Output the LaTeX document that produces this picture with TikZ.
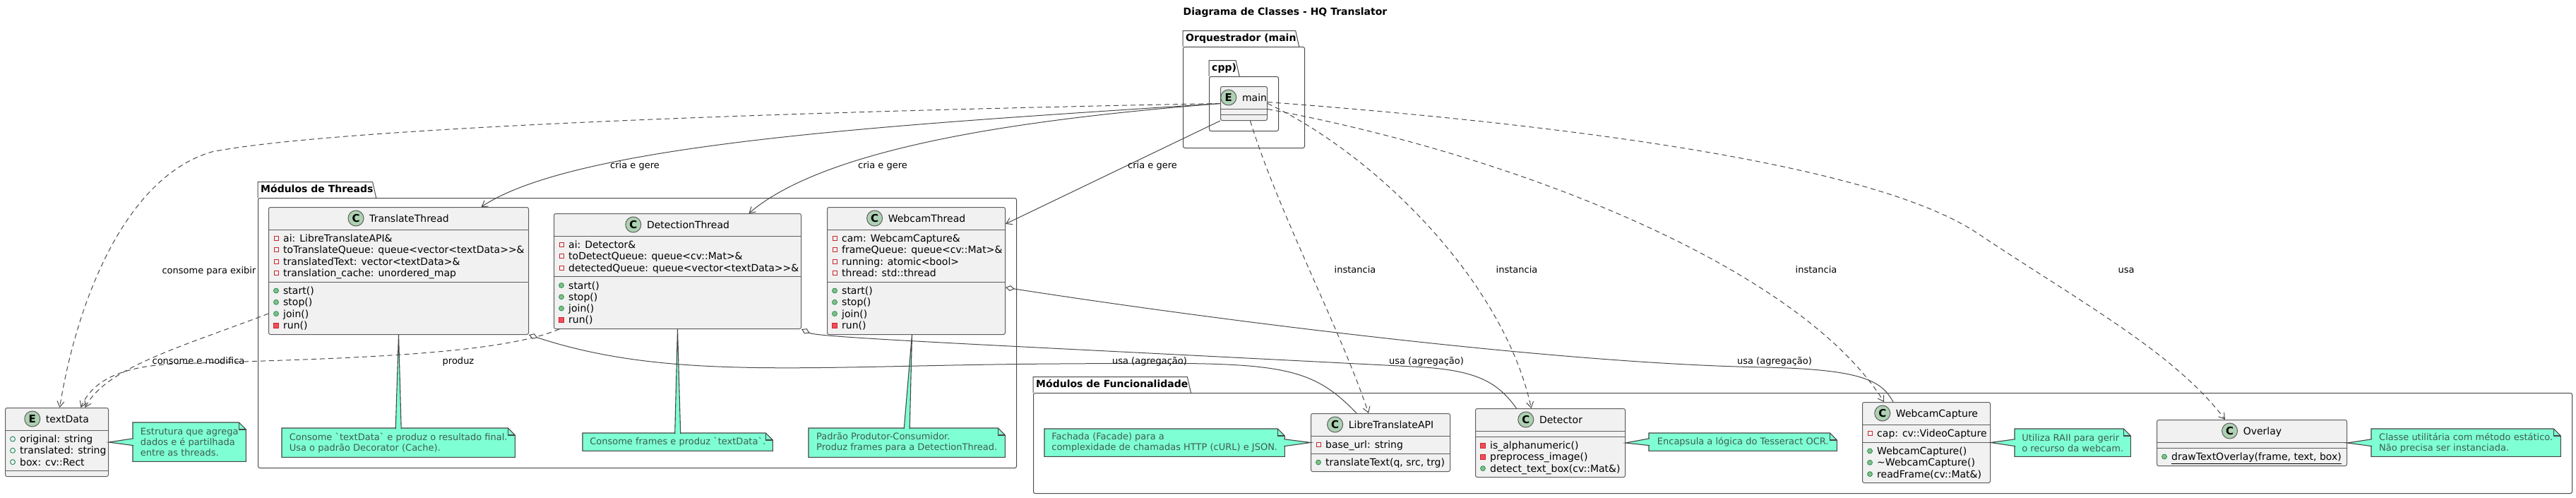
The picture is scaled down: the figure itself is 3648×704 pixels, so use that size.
\documentclass[tikz,border=0pt]{standalone}
\usepackage{fontspec}
\setmainfont{DejaVu Sans}
\usetikzlibrary{arrows.meta,calc}

\definecolor{classbg}{HTML}{F1F1F1}
\definecolor{boxclr}{HTML}{5E5E5E}
\definecolor{edgeclr}{HTML}{4A4A4A}
\definecolor{stereobg}{HTML}{ADD1B2}
\definecolor{notebg}{HTML}{7FFFD4}
\definecolor{noteclr}{HTML}{454545}
\definecolor{notetxt}{HTML}{3E5C52}
\definecolor{privred}{HTML}{C82930}
\definecolor{privfill}{HTML}{F24D5C}
\definecolor{pubgreen}{HTML}{038048}
\definecolor{pubfill}{HTML}{84BE84}

\newcounter{memc}
\newcommand{\umlclass}[7]{%
  \node[classbox, minimum width=#6, minimum height=#7, anchor=north west] (#1) at (#4,#5) {};
  \node[classtitle] (#1-t) at ($(#1.north)+(15,21)$) {#3};
  \node[stereo] (#1-s) at ($(#1-t.base west)+(-19,-5)$) {#2};}
\newcommand{\umlsep}[2]{\draw[classline] ($(#1.north west)+(0,#2)$) -- ($(#1.north east)+(0,#2)$);}
\newcommand{\umlmem}[4]{\stepcounter{memc}%
  \node[#1] (i\arabic{memc}) at ($(#2.north west)+(11,#3)$) {};
  \node[memtext] (m\arabic{memc}) at ($(#2.north west)+(21,#3+5)$) {#4};}
\newcommand{\umlpkg}[6]{%
  \node[pkgbox, minimum width=#5, minimum height=#6, anchor=north west] (#1) at (#3,#4) {};
  \node[pkglabel] (#1-l) at (#1.north west) {#2};
  \draw[pkgline] (#1-l.south west) -- (#1-l.north west) -- ([xshift=-5pt]#1-l.north east) -- (#1-l.south east);}
\newcommand{\umlnote}[1]{%
  \fill[white] ([xshift=-10pt]#1.north east) -- (#1.north east) -- ([yshift=-10pt]#1.north east) -- cycle;
  \draw[noteline] (#1.north west) -- ([xshift=-10pt]#1.north east) -- ([yshift=-10pt]#1.north east) -- (#1.south east) -- (#1.south west) -- cycle;
  \draw[noteline] ([xshift=-10pt]#1.north east) |- ([yshift=-10pt]#1.north east);}
\newcommand{\umlwedge}[3]{%
  \fill[notebg] #1 -- #2 -- #3 -- cycle;
  \draw[noteline] #2 -- #1 -- #3;}

\begin{document}
\begin{tikzpicture}[x=1pt, y=-1pt,
  classbox/.style={draw=boxclr, fill=classbg, rounded corners=2.5pt, line width=1pt, inner sep=0pt},
  classline/.style={draw=boxclr, line width=1pt},
  classtitle/.style={anchor=base, inner sep=0pt, font=\fontsize{14}{16}\selectfont},
  stereo/.style={circle, draw=boxclr, fill=stereobg, minimum size=22pt, inner sep=0pt, line width=1pt, font=\fontsize{15}{16}\selectfont\bfseries},
  memtext/.style={anchor=base west, inner sep=0pt, font=\fontsize{14}{16}\selectfont},
  pfld/.style={rectangle, draw=privred, minimum size=6pt, inner sep=0pt, line width=0.8pt},
  pmth/.style={rectangle, draw=privred, fill=privfill, minimum size=7pt, inner sep=0pt, line width=0.6pt},
  ufld/.style={circle, draw=pubgreen, minimum size=7pt, inner sep=0pt, line width=0.8pt},
  umth/.style={circle, draw=pubgreen, fill=pubfill, minimum size=7pt, inner sep=0pt, line width=0.6pt},
  pkgbox/.style={draw=black!70, rounded corners=2.5pt, line width=1pt, inner sep=0pt},
  pkgline/.style={draw=black!70, line width=1pt},
  pkglabel/.style={anchor=south west, inner xsep=4pt, inner ysep=0pt, minimum height=22pt, text height=10pt, text depth=3pt, font=\fontsize{14}{16}\selectfont\bfseries},
  notebox/.style={anchor=north west, fill=notebg, inner xsep=6pt, inner ysep=2pt, align=left, text=notetxt, font=\fontsize{13}{15}\selectfont},
  noteline/.style={draw=noteclr, line width=1.1pt},
  edge/.style={draw=edgeclr, line width=1pt},
  dep/.style={edge, dash pattern=on 7pt off 5pt, -{Straight Barb[length=8pt,width=10pt]}},
  assoc/.style={edge, -{Straight Barb[length=8pt,width=10pt]}},
  aggr/.style={edge, {Diamond[fill=white,length=13pt,width=8pt]}-},
  lbl/.style={anchor=base, inner sep=0pt, font=\fontsize{13}{15}\selectfont}]
\fill[white] (0,0) rectangle (3648,704);
\useasboundingbox (0,0) rectangle (3648,704);
\node[font=\fontsize{14}{16}\selectfont\bfseries] (title) at (1820,18) {Diagrama de Classes - HQ Translator};

\umlpkg{porq}{Orquestrador (main}{1675}{66}{172}{143}
\umlpkg{pcpp}{cpp)}{1712}{108}{98}{77}
\umlpkg{pthr}{Módulos de Threads}{365}{280}{1074}{382}
\umlpkg{pfun}{Módulos de Funcionalidade}{1463}{556}{2179}{142}

\umlclass{main}{E}{main}{1728}{122}{66}{48}
\umlsep{main}{32} \umlsep{main}{40}

\umlclass{td}{E}{textData}{7}{577}{146}{97}
\umlsep{td}{32} \umlsep{td}{89.5}
\umlmem{ufld}{td}{44.5}{original: string}
\umlmem{ufld}{td}{60.8}{translated: string}
\umlmem{ufld}{td}{77.1}{box: cv::Rect}

\umlclass{tt}{C}{TranslateThread}{380}{293}{368}{180}
\umlsep{tt}{32} \umlsep{tt}{106}
\umlmem{pfld}{tt}{44.5}{ai: LibreTranslateAPI\&}
\umlmem{pfld}{tt}{60.8}{toTranslateQueue: queue<vector<textData>{}>\&}
\umlmem{pfld}{tt}{77.1}{translatedText: vector<textData>\&}
\umlmem{pfld}{tt}{93.4}{translation\_cache: unordered\_map}
\umlmem{umth}{tt}{118.5}{start()}
\umlmem{umth}{tt}{134.8}{stop()}
\umlmem{umth}{tt}{151.1}{join()}
\umlmem{pmth}{tt}{167.4}{run()}

\umlclass{dt}{C}{DetectionThread}{784}{302}{350}{163}
\umlsep{dt}{32} \umlsep{dt}{89.5}
\umlmem{pfld}{dt}{44.5}{ai: Detector\&}
\umlmem{pfld}{dt}{60.8}{toDetectQueue: queue<cv::Mat>\&}
\umlmem{pfld}{dt}{77.1}{detectedQueue: queue<vector<textData>{}>\&}
\umlmem{umth}{dt}{102}{start()}
\umlmem{umth}{dt}{118.3}{stop()}
\umlmem{umth}{dt}{134.6}{join()}
\umlmem{pmth}{dt}{150.9}{run()}

\umlclass{wt}{C}{WebcamThread}{1171}{293}{252}{180}
\umlsep{wt}{32} \umlsep{wt}{106}
\umlmem{pfld}{wt}{44.5}{cam: WebcamCapture\&}
\umlmem{pfld}{wt}{60.8}{frameQueue: queue<cv::Mat>\&}
\umlmem{pfld}{wt}{77.1}{running: atomic<bool>}
\umlmem{pfld}{wt}{93.4}{thread: std::thread}
\umlmem{umth}{wt}{118.5}{start()}
\umlmem{umth}{wt}{134.8}{stop()}
\umlmem{umth}{wt}{151.1}{join()}
\umlmem{pmth}{wt}{167.4}{run()}

\umlclass{lta}{C}{LibreTranslateAPI}{1856}{585}{197}{82}
\umlsep{lta}{32} \umlsep{lta}{57}
\umlmem{pfld}{lta}{44.5}{base\_url: string}
\umlmem{umth}{lta}{69.5}{translateText(q, src, trg)}

\umlclass{det}{C}{Detector}{2089}{578}{212}{97}
\umlsep{det}{32} \umlsep{det}{40}
\umlmem{pmth}{det}{52.5}{is\_alphanumeric()}
\umlmem{pmth}{det}{68.8}{preprocess\_image()}
\umlmem{umth}{det}{85.1}{detect\_text\_box(cv::Mat\&)}

\umlclass{wc}{C}{WebcamCapture}{2637}{569}{181}{114}
\umlsep{wc}{32} \umlsep{wc}{57}
\umlmem{pfld}{wc}{44.5}{cap: cv::VideoCapture}
\umlmem{umth}{wc}{69.5}{WebcamCapture()}
\umlmem{umth}{wc}{85.8}{\textasciitilde WebcamCapture()}
\umlmem{umth}{wc}{102.1}{readFrame(cv::Mat\&)}

\umlclass{ovl}{C}{Overlay}{3054}{594}{269}{65}
\umlsep{ovl}{32} \umlsep{ovl}{40}
\umlmem{umth}{ovl}{52.5}{\underline{drawTextOverlay(frame, text, box)}}

\node[notebox, minimum width=160pt, minimum height=55pt] (ntd) at (188,598) {Estrutura que agrega\\dados e é partilhada\\entre as threads.};
\umlnote{ntd}
\umlwedge{(td.east)}{([xshift=1pt,yshift=5pt]ntd.west)}{([xshift=1pt,yshift=-5pt]ntd.west)}
\node[notebox, minimum width=330pt, minimum height=41pt] (ntt) at (399,606) {Consome \textasciigrave textData\textasciigrave{} e produz o resultado final.\\Usa o padrão Decorator (Cache).};
\umlnote{ntt}
\umlwedge{(tt.south)}{([xshift=-4pt,yshift=-1pt]ntt.north)}{([xshift=4pt,yshift=-1pt]ntt.north)}
\node[notebox, minimum width=269pt, minimum height=25pt] (ndt) at (825,613) {Consome frames e produz \textasciigrave textData\textasciigrave.};
\umlnote{ndt}
\umlwedge{(dt.south)}{([xshift=-4pt,yshift=-1pt]ndt.north)}{([xshift=4pt,yshift=-1pt]ndt.north)}
\node[notebox, minimum width=278pt, minimum height=41pt] (nwt) at (1145,606) {Padrão Produtor-Consumidor.\\Produz frames para a DetectionThread.};
\umlnote{nwt}
\umlwedge{($(wt.south)+(-6,0)$)}{([xshift=-4pt,yshift=-1pt]nwt.north)}{([xshift=4pt,yshift=-1pt]nwt.north)}
\node[notebox, minimum width=340pt, minimum height=39pt] (nlta) at (1479,607) {Fachada (Facade) para a\\complexidade de chamadas HTTP (cURL) e JSON.};
\umlnote{nlta}
\umlwedge{(lta.west)}{([xshift=-1pt,yshift=5pt]nlta.east)}{([xshift=-1pt,yshift=-5pt]nlta.east)}
\node[notebox, minimum width=266pt, minimum height=25pt] (ndet) at (2335,613) {Encapsula a lógica do Tesseract OCR.};
\umlnote{ndet}
\umlwedge{(det.east)}{([xshift=1pt,yshift=5pt]ndet.west)}{([xshift=1pt,yshift=-5pt]ndet.west)}
\node[notebox, minimum width=164pt, minimum height=39pt] (nwc) at (2853,607) {Utiliza RAII para gerir\\o recurso da webcam.};
\umlnote{nwc}
\umlwedge{(wc.east)}{([xshift=1pt,yshift=5pt]nwc.west)}{([xshift=1pt,yshift=-5pt]nwc.west)}
\node[notebox, minimum width=268pt, minimum height=39pt] (novl) at (3358,607) {Classe utilitária com método estático.\\Não precisa ser instanciada.};
\umlnote{novl}
\umlwedge{(ovl.east)}{([xshift=1pt,yshift=5pt]novl.west)}{([xshift=1pt,yshift=-5pt]novl.west)}

\draw[dep] (main.west) .. controls (1000,160) and (450,185) .. (300,215) .. controls (180,250) and (110,420) .. ([xshift=4pt]td.north);
\draw[dep] ($(tt.north west)+(0,151)$) .. controls (260,490) and (150,520) .. ([xshift=40pt]td.north);
\draw[dep] ($(dt.south west)+(8,0)$) .. controls (700,505) and (450,508) .. (250,515) .. controls (170,518) and (130,540) .. ([xshift=34pt]td.north);
\draw[assoc] (main.west) .. controls (1300,175) and (820,200) .. ([xshift=117pt]tt.north);
\draw[assoc] (main.west) .. controls (1500,165) and (1180,200) .. ([xshift=101pt]dt.north);
\draw[assoc] (main.south west) -- ($(wt.north east)+(0,24)$);
\draw[dep] ($(main.south)+(9,0)$) .. controls (1810,300) and (1900,470) .. ([xshift=-17pt]lta.north);
\draw[dep] (main.east) .. controls (1950,220) and (2130,400) .. ([xshift=-27pt]det.north);
\draw[dep] ($(main.east)+(0,8)$) .. controls (2150,220) and (2550,380) .. ([xshift=-60pt]wc.north);
\draw[dep] ($(main.east)+(0,-2)$) .. controls (2200,175) and (2650,230) .. (2800,330) .. controls (2950,430) and (3080,500) .. ([xshift=-38pt]ovl.north);
\draw[aggr] (tt.south east) .. controls (950,540) and (1150,517) .. (1500,515) .. controls (1800,513) and (1850,510) .. ([xshift=-34pt]lta.north);
\draw[aggr] (dt.south east) .. controls (1160,478) and (1400,488) .. (2000,519) .. controls (2090,523) and (2120,540) .. ([xshift=-48pt]det.north);
\draw[aggr] ($(wt.north east)+(0,114)$) .. controls (1700,450) and (2200,515) .. (2500,520) .. controls (2640,523) and (2665,540) .. ([xshift=-47pt]wc.north);

\node[lbl] (lb1) at (296,387) {consome para exibir};
\node[lbl] (lb2) at (281,515) {consome e modifica};
\node[lbl] (lb3) at (649,515) {produz};
\node[lbl] (lb4) at (899,238) {cria e gere};
\node[lbl] (lb5) at (1250,238) {cria e gere};
\node[lbl] (lb6) at (1632,238) {cria e gere};
\node[lbl] (lb7) at (1919,386) {instancia};
\node[lbl] (lb8) at (2148,386) {instancia};
\node[lbl] (lb9) at (2572,386) {instancia};
\node[lbl] (lb10) at (3011,386) {usa};
\node[lbl] (lb11) at (1628,515) {usa (agregação)};
\node[lbl] (lb12) at (2020,515) {usa (agregação)};
\node[lbl] (lb13) at (2513,515) {usa (agregação)};
\end{tikzpicture}
\end{document}
